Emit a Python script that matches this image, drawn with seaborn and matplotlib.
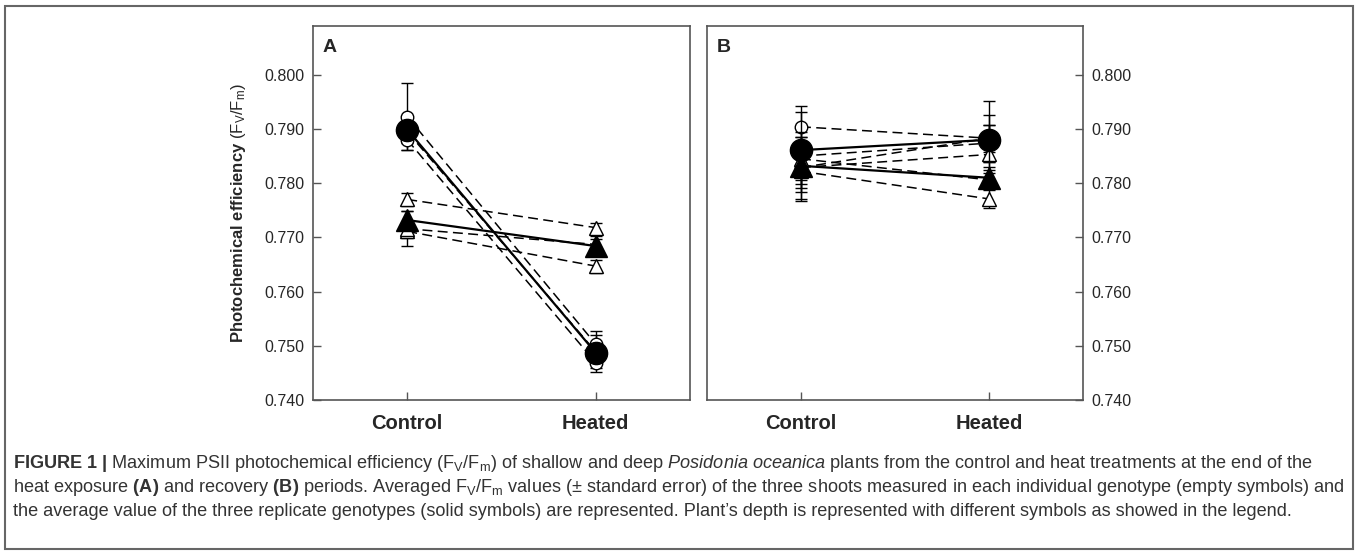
import numpy as np
import pandas as pd
import matplotlib.pyplot as plt
import seaborn as sns
from matplotlib.patches import Rectangle

# Data
treatments = ["Control", "Heated"]

# Panel A - end of heat exposure
a_circ_open = [[0.7923, 0.7503], [0.7880, 0.7469], [0.7895, 0.7489]]
a_circ_open_se = [[0.0062, 0.0024], [0.0018, 0.0018], [0.0020, 0.0030]]
a_circ_mean = [0.7899, 0.7487]
a_circ_mean_se = [0.0013, 0.0012]
a_tri_open = [[0.7770, 0.7718], [0.7711, 0.7647], [0.7716, 0.7687]]
a_tri_open_se = [[0.0012, 0.0009], [0.0012, 0.0012], [0.0032, 0.0010]]
a_tri_mean = [0.7732, 0.7684]
a_tri_mean_se = [0.0017, 0.0019]

# Panel B - recovery
b_circ_open = [[0.7904, 0.7883], [0.7850, 0.7874], [0.7829, 0.7883]]
b_circ_open_se = [[0.0039, 0.0043], [0.0035, 0.0034], [0.0030, 0.0025]]
b_circ_mean = [0.7861, 0.7880]
b_circ_mean_se = [0.0070, 0.0072]
b_tri_open = [[0.7845, 0.7806], [0.7822, 0.7771], [0.7829, 0.7853]]
b_tri_open_se = [[0.0040, 0.0012], [0.0055, 0.0016], [0.0045, 0.0028]]
b_tri_mean = [0.7832, 0.7810]
b_tri_mean_se = [0.0062, 0.0020]

yticks = [0.740, 0.750, 0.760, 0.770, 0.780, 0.790, 0.800]

sns.set_style("ticks")
plt.rcParams['font.family'] = ['Liberation Sans', 'DejaVu Sans']
plt.rcParams['mathtext.fontset'] = 'custom'
plt.rcParams['mathtext.rm'] = 'Liberation Sans'
plt.rcParams['mathtext.it'] = 'Liberation Sans:italic'
plt.rcParams['mathtext.bf'] = 'Liberation Sans:bold'


def build_frame(circ_open, circ_open_se, circ_mean, circ_mean_se,
                tri_open, tri_open_se, tri_mean, tri_mean_se):
    rows = []
    groups = [("circle", "open", circ_open, circ_open_se),
              ("triangle", "open", tri_open, tri_open_se),
              ("circle", "mean", [circ_mean], [circ_mean_se]),
              ("triangle", "mean", [tri_mean], [tri_mean_se])]
    for shape, kind, vals, ses in groups:
        for g, (v, s) in enumerate(zip(vals, ses)):
            for t in range(2):
                rows.append({"shape": shape, "kind": kind, "unit": f"{shape}{kind}{g}",
                             "x": t, "value": v[t], "se": s[t]})
    return pd.DataFrame(rows)


def draw_panel(ax, df):
    for unit, sub in df.groupby("unit"):
        kind = sub["kind"].iloc[0]
        shape = sub["shape"].iloc[0]
        if kind == "open":
            sns.lineplot(data=sub, x="x", y="value", ax=ax, color="black",
                         lw=1.1, dashes=(6.5, 3.5), zorder=2, estimator=None)
        else:
            sns.lineplot(data=sub, x="x", y="value", ax=ax, color="black",
                         lw=1.6, zorder=3, estimator=None)
        marker = "o" if shape == "circle" else "^"
        if kind == "open":
            ms = 9 if shape == "circle" else 10
            fc = "white"
            z = 4
        else:
            ms = 16 if shape == "circle" else 16.5
            fc = "black"
            z = 5
        ax.errorbar(sub["x"], sub["value"], yerr=sub["se"], fmt="none",
                    ecolor="black", elinewidth=1.0, capsize=4, capthick=1.0, zorder=z - 0.5)
        ax.plot(sub["x"], sub["value"], marker=marker, ls="none", ms=ms,
                mfc=fc, mec="black", mew=1.0, zorder=z)

    ax.set_xlim(-0.5, 1.5)
    ax.set_ylim(0.740, 0.809)
    ax.set_xticks([0, 1])
    ax.set_xticklabels(treatments, fontsize=14.5, fontweight="bold")
    ax.set_yticks(yticks)
    ax.set_yticklabels([f"{v:.3f}" for v in yticks], fontsize=11.5)
    ax.set_xlabel("")
    ax.set_ylabel("")
    ax.tick_params(axis="both", direction="in", length=6, width=1, color="#555555")
    ax.tick_params(axis="x", pad=10)
    for sp in ax.spines.values():
        sp.set_visible(True)
        sp.set_color("#555555")
        sp.set_linewidth(1.2)


fig = plt.figure(figsize=(13.58, 5.52), dpi=100)
W, H = 1358, 552
ax_a = fig.add_axes([313 / W, (H - 400) / H, 377 / W, 374 / H])
ax_b = fig.add_axes([707 / W, (H - 400) / H, 376 / W, 374 / H])

df_a = build_frame(a_circ_open, a_circ_open_se, a_circ_mean, a_circ_mean_se,
                   a_tri_open, a_tri_open_se, a_tri_mean, a_tri_mean_se)
df_b = build_frame(b_circ_open, b_circ_open_se, b_circ_mean, b_circ_mean_se,
                   b_tri_open, b_tri_open_se, b_tri_mean, b_tri_mean_se)

draw_panel(ax_a, df_a)
draw_panel(ax_b, df_b)

ax_a.tick_params(axis="y", pad=6)
ax_b.yaxis.tick_right()
ax_b.tick_params(axis="y", pad=6)
ax_b.tick_params(axis="y", direction="in", length=6, color="#555555")

ax_a.set_ylabel(r"$\mathbf{Photochemical\ efficiency}\ \mathregular{(F_V/F_m)}$",
                fontsize=12, labelpad=12)

ax_a.text(0.025, 0.965, "A", transform=ax_a.transAxes, fontsize=14,
          fontweight="bold", va="top", ha="left")
ax_b.text(0.025, 0.965, "B", transform=ax_b.transAxes, fontsize=14,
          fontweight="bold", va="top", ha="left")

# Outer frame
fig.add_artist(Rectangle((5 / W, 3 / H), 1348 / W, 543 / H, transform=fig.transFigure,
                         fill=False, edgecolor="#666666", lw=1.5))

# Caption
cap_lines = [
    r"$\mathbf{FIGURE\ 1\ |}$ Maximum PSII photochemical efficiency (F$_\mathregular{V}$/F$_\mathregular{m}$) of shallow and deep "
    r"$\mathit{Posidonia\ oceanica}$ plants from the control and heat treatments at the end of the",
    r"heat exposure $\mathbf{(A)}$ and recovery $\mathbf{(B)}$ periods. Averaged F$_\mathregular{V}$/F$_\mathregular{m}$ values "
    r"($\pm$ standard error) of the three shoots measured in each individual genotype (empty symbols) and",
    "the average value of the three replicate genotypes (solid symbols) are represented. "
    "Plant\u2019s depth is represented with different symbols as showed in the legend.",
]
for i, line in enumerate(cap_lines):
    fig.text(13 / W, 1 - (463 + i * 24.5) / H, line, fontsize=13.1, color="#333333",
             ha="left", va="center")

fig.savefig("out.png", dpi=100)
